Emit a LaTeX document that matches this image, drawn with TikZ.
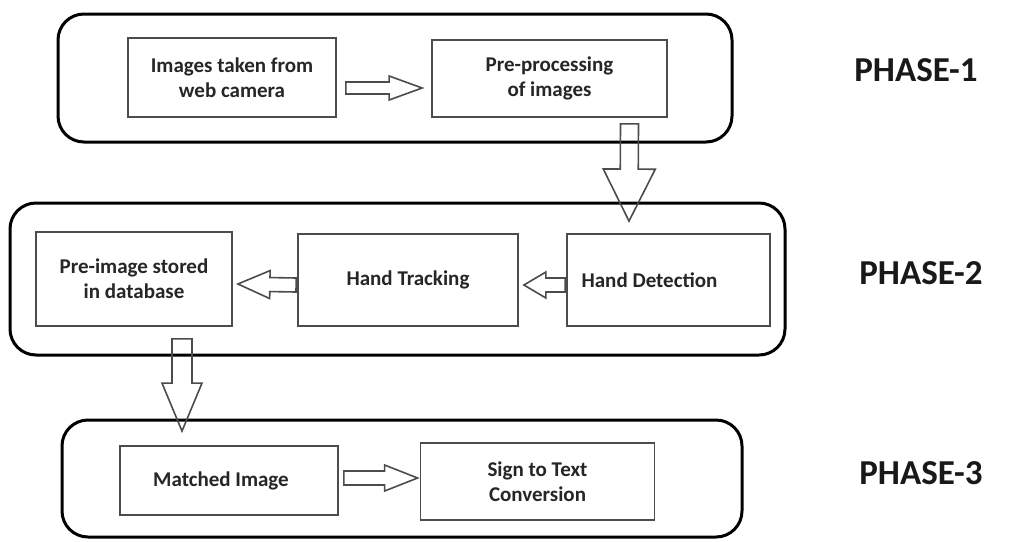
\documentclass[tikz,border=0pt]{standalone}
\usepackage{fontspec}
\setmainfont{Carlito}
\usetikzlibrary{calc}
\newcommand\blockarrow[5]{%
  \coordinate (ba-h) at ($(#2)!#5!(#1)$);
  \draw[blkarrow] ($(#1)!#3!90:(#2)$) -- ($(ba-h)!#3!90:(#2)$) -- ($(ba-h)!#4!90:(#2)$) -- (#2)
     -- ($(ba-h)!#4!-90:(#2)$) -- ($(ba-h)!#3!-90:(#2)$) -- ($(#1)!#3!-90:(#2)$) -- cycle;}
\tikzset{
  phase/.style={draw=black, line width=3pt, rounded corners=26pt, inner sep=0pt},
  stepbox/.style={draw=black!70, line width=1.8pt, inner sep=0pt, align=center,
     font=\fontsize{21}{25}\selectfont\bfseries, text=black!85},
  blkarrow/.style={draw=black!70, line width=1.6pt, line join=miter},
  phlabel/.style={font=\fontsize{35}{40}\selectfont\bfseries, text=black!90}
}
\begin{document}
\begin{tikzpicture}[x=1pt,y=-1pt]
\useasboundingbox[fill=white] (0,0) rectangle (1011,541);
% phase frames
\node[phase, minimum width=674pt, minimum height=128pt] (p1) at (395,78) {};
\node[phase, minimum width=775pt, minimum height=152pt] (p2) at (397.5,279) {};
\node[phase, minimum width=680pt, minimum height=117pt] (p3) at (402,478.5) {};
% steps
\node[stepbox, minimum width=208pt, minimum height=79pt] (a) at (232,77.5) {Images taken from\\web camera};
\node[stepbox, minimum width=235pt, minimum height=77pt] (b) at (549.5,78.5) {Pre-processing\\of images};
\node[stepbox, minimum width=196pt, minimum height=94pt] (c) at (134,279) {Pre-image stored\\in database};
\node[stepbox, minimum width=220pt, minimum height=92pt] (d) at (408,280) {Hand Tracking};
\node[stepbox, minimum width=203pt, minimum height=92pt] (e) at (668.5,280) {Hand Detection\hspace*{38pt}};
\node[stepbox, minimum width=218pt, minimum height=69pt] (f) at (229,480.5) {Matched Image\hspace*{16pt}};
\node[stepbox, minimum width=234pt, minimum height=77pt] (g) at (537.5,481.5) {Sign to Text\\Conversion};
% labels
\node[phlabel] (l1) at (916,70) {PHASE-1};
\node[phlabel] (l2) at (921,273) {PHASE-2};
\node[phlabel] (l3) at (921,473) {PHASE-3};
% arrow end points
\coordinate (ab1) at ($(a.east)+(9pt,10.5)$);
\coordinate (ab2) at ($(b.west)+(-9pt,9.5)$);
\coordinate (be1) at ($(b.south)+(80,6)$);
\coordinate (be2) at ($(e.north)+(-39.5,-12)$);
\coordinate (dc1) at ($(d.west)+(-1pt,5)$);
\coordinate (dc2) at ($(c.east)+(5pt,5)$);
\coordinate (ed1) at ($(e.west)+(-1pt,5)$);
\coordinate (ed2) at ($(d.east)+(5pt,5)$);
\coordinate (cf1) at ($(c.south)+(48,12)$);
\coordinate (cf2) at ($(f.north)+(-47,-14)$);
\coordinate (fg1) at ($(f.east)+(5pt,-2.5)$);
\coordinate (fg2) at ($(g.west)+(-2pt,-3.5)$);
% block arrows
\blockarrow{ab1}{ab2}{6pt}{12pt}{33pt}
\blockarrow{be1}{be2}{9pt}{26pt}{52pt}
\blockarrow{dc1}{dc2}{7pt}{14pt}{32pt}
\blockarrow{ed1}{ed2}{7pt}{13pt}{22pt}
\blockarrow{cf1}{cf2}{10pt}{20pt}{48pt}
\blockarrow{fg1}{fg2}{7pt}{13pt}{33pt}
\end{tikzpicture}
\end{document}
